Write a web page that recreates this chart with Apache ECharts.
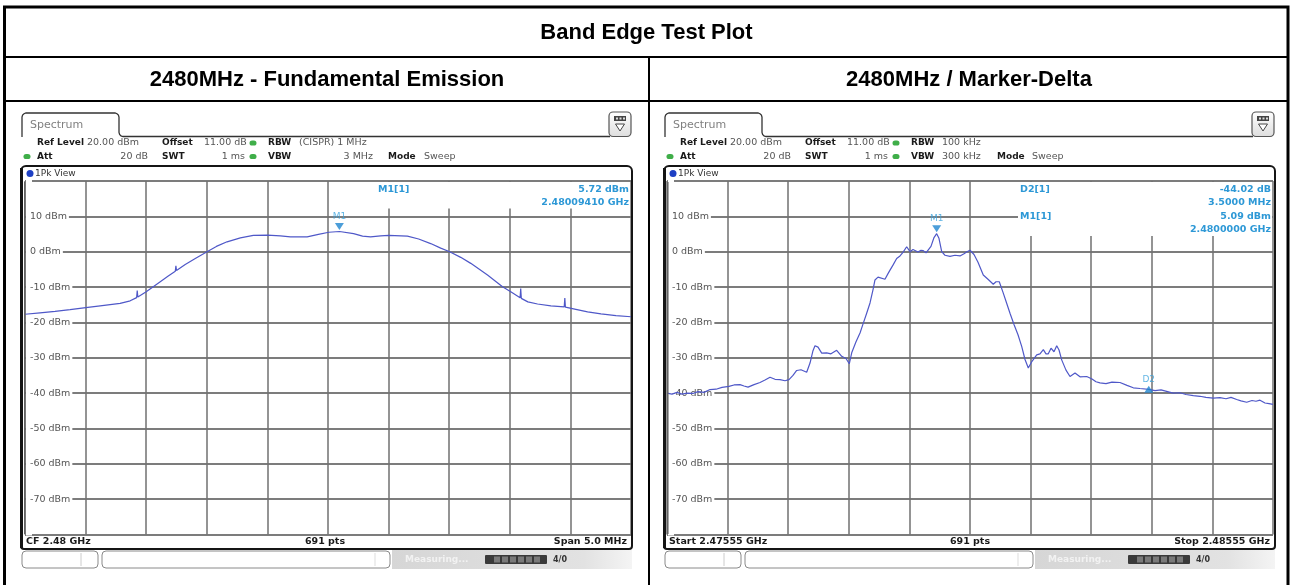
<!DOCTYPE html>
<html><head><meta charset="utf-8">
<script src="https://cdn.jsdelivr.net/npm/echarts@6/dist/echarts.min.js"></script>
<style>html,body{margin:0;padding:0;background:#fff}#c{width:1292px;height:585px}</style>
</head><body><div id="c"></div>
<script>
// ---------- DATA ----------
const mainTitle = 'Band Edge Test Plot';
const panelTitles = ['2480MHz - Fundamental Emission', '2480MHz / Marker-Delta'];

// y axis (dBm) ticks
const yMin = -80, yMax = 20, yStep = 10;
const yUnit = ' dBm';

// Left trace: frequency offset from 2.4775 GHz (MHz), level (dBm)
const fundFreq = [0.000,0.124,0.248,0.372,0.502,0.620,0.785,0.868,0.921,0.926,0.931,1.000,1.058,1.116,1.182,1.240,1.245,1.250,1.322,1.405,1.502,1.579,1.667,1.777,1.884,2.000,2.107,2.190,2.328,2.421,2.507,2.595,2.711,2.785,2.851,2.934,3.000,3.155,3.248,3.347,3.430,3.504,3.595,3.678,3.816,3.940,4.008,4.085,4.090,4.095,4.149,4.229,4.339,4.449,4.454,4.459,4.545,4.642,4.752,4.876,5.000];
const fundLevel = [-17.7,-17.3,-16.9,-16.4,-15.8,-15.3,-14.6,-13.9,-13.0,-11.0,-12.8,-11.3,-9.9,-8.5,-6.9,-5.5,-4.0,-5.3,-3.6,-1.9,0.0,1.5,2.8,3.9,4.6,4.7,4.5,4.2,4.2,4.9,5.5,5.72,5.1,4.4,4.2,4.5,4.6,4.4,3.6,2.3,1.0,0.0,-1.6,-3.3,-6.6,-9.9,-11.3,-13.0,-10.4,-13.2,-14.2,-14.8,-15.3,-15.6,-13.1,-15.7,-16.3,-17.0,-17.6,-18.1,-18.4];
const fundSpanMHz = 5, fundStepMHz = 0.5;

// Right trace: frequency offset from 2.47555 GHz (MHz), level (dBm)
const deltaFreq = [0.000,0.083,0.165,0.248,0.330,0.429,0.512,0.611,0.710,0.809,0.908,1.023,1.106,1.205,1.271,1.337,1.436,1.535,1.617,1.700,1.782,1.865,1.947,2.013,2.079,2.140,2.211,2.305,2.360,2.409,2.442,2.492,2.553,2.635,2.706,2.800,2.883,2.954,3.008,3.048,3.119,3.185,3.234,3.295,3.350,3.399,3.432,3.482,3.515,3.597,3.647,3.680,3.729,3.790,3.845,3.894,3.955,4.010,4.059,4.092,4.142,4.191,4.229,4.274,4.306,4.356,4.406,4.450,4.488,4.533,4.587,4.670,4.752,4.835,4.901,4.950,5.000,5.066,5.132,5.219,5.297,5.384,5.429,5.483,5.545,5.594,5.660,5.726,5.792,5.853,5.908,5.962,6.023,6.101,6.155,6.210,6.254,6.292,6.337,6.386,6.431,6.469,6.513,6.584,6.650,6.733,6.815,6.926,7.013,7.079,7.145,7.244,7.343,7.475,7.591,7.695,7.805,7.950,8.053,8.152,8.245,8.350,8.465,8.564,8.685,8.795,8.894,9.015,9.125,9.224,9.307,9.401,9.472,9.566,9.653,9.719,9.785,9.868,9.934,10.000];
const deltaLevel = [-40.0,-40.3,-39.8,-40.3,-40.0,-40.1,-39.6,-39.8,-39.0,-38.9,-38.4,-38.1,-37.7,-37.6,-38.0,-38.3,-37.6,-37.0,-36.3,-35.5,-36.1,-36.2,-36.5,-36.2,-35.0,-33.6,-33.4,-34.1,-31.5,-28.0,-26.6,-27.0,-28.7,-28.6,-28.9,-27.9,-29.6,-30.2,-31.7,-28.6,-25.5,-23.0,-20.5,-17.4,-14.5,-10.8,-8.0,-7.2,-7.1,-7.8,-6.2,-5.2,-3.8,-1.9,-1.2,-0.2,1.4,0.0,0.6,0.4,-0.1,0.4,0.3,-0.3,-0.3,1.5,4.0,5.09,3.8,0.0,-1.0,-1.3,-1.0,-1.2,-0.6,0.0,0.4,-0.8,-3.0,-6.6,-7.8,-9.2,-8.5,-8.5,-11.5,-14.0,-17.4,-20.6,-23.5,-26.8,-30.5,-32.9,-31.0,-29.2,-28.9,-27.7,-28.9,-28.9,-27.3,-28.3,-26.6,-27.8,-30.6,-33.5,-35.3,-34.3,-35.4,-35.3,-36.0,-36.8,-37.1,-37.3,-36.9,-37.0,-37.8,-38.5,-38.7,-38.93,-39.3,-39.1,-39.5,-40.0,-39.9,-40.4,-40.7,-40.9,-41.2,-41.4,-41.3,-41.6,-41.2,-41.8,-42.2,-42.6,-42.1,-42.3,-42.0,-42.8,-43.0,-43.2];
const deltaSpanMHz = 10, deltaStepMHz = 1;

// Markers
const fundM1 = [2.594, 5.72];
const deltaM1 = [4.45, 5.09];
const deltaD2 = [7.95, -38.93];

// Texts
const fundMarkerTexts = ['M1[1]', '5.72 dBm', '2.48009410 GHz'];
const deltaMarkerTexts = ['D2[1]', '-44.02 dB', '3.5000 MHz', 'M1[1]', '5.09 dBm', '2.4800000 GHz'];
const fundFooter = ['CF 2.48 GHz', '691 pts', 'Span 5.0 MHz'];
const deltaFooter = ['Start 2.47555 GHz', '691 pts', 'Stop 2.48555 GHz'];
const fundRBW = '(CISPR) 1 MHz', fundVBW = '3 MHz';
const deltaRBW = '100 kHz', deltaVBW = '300 kHz';

// ---------- RENDER ----------
const FONT = '"DejaVu Sans", Verdana, sans-serif';
const HFONT = '"Liberation Sans", Arial, sans-serif';
const TRACE = '#4f58c8';
const MK = '#2d98d6';

function pairs(xs, ys){ return xs.map((x,i)=>[x, ys[i]]); }

function T(x, y, s, o){
  o = o || {};
  const align = o.align || 'left', va = o.va || 'middle';
  return {type:'text', z: o.z || 20, silent:true,
    style:{text:s, x:x, y:y, fill:o.color||'#333',
      font:(o.bold?'bold ':'') + (o.size||9.5) + 'px ' + (o.font||FONT),
      align:align, verticalAlign:va, textAlign:align, textVerticalAlign:va}};
}
function L(x1,y1,x2,y2,c,w,z){ return {type:'line', z:z||20, silent:true, shape:{x1,y1,x2,y2}, style:{stroke:c, lineWidth:w}}; }
function R(x,y,w,h,o){ return {type:'rect', z:o.z||20, silent:true, shape:{x,y,width:w,height:h,r:o.r||0}, style:{fill:o.fill||'none', stroke:o.stroke||'none', lineWidth:o.lw||1}}; }
function dot(cx,cy,c){ return {type:'rect', z:20, silent:true, shape:{x:cx-3.5,y:cy-2.6,width:7,height:5.2,r:2.6}, style:{fill:c}}; }

function chrome(ox, isLeft){
  const e = [];
  const boldC = '#1a1a1a', regC = '#555';
  const HB = {bold:true, color:boldC, size:9};
  const HR = {color:regC, size:9.5};
  // tab + baseline
  const tab = [[22,137],[22,117],[22.6,115],[24,113.7],[26,113],[115,113],[117,113.7],[118.4,115],[119,117],[119,132.5],[119.6,134.5],[121,135.9],[123,136.5],[610,136.5]]
    .map(p=>[p[0]+ox, p[1]]);
  e.push({type:'polyline', z:20, silent:true, shape:{points:tab}, style:{stroke:'#333', lineWidth:1.3, fill:'none'}});
  e.push(T(ox+30, 125, 'Spectrum', {size:11, color:'#808080'}));
  // icon
  e.push({type:'rect', z:20, silent:true, shape:{x:ox+609,y:112,width:22,height:24.5,r:4},
    style:{fill:new echarts.graphic.LinearGradient(0,0,0,1,[{offset:0,color:'#fff'},{offset:1,color:'#ddd'}]), stroke:'#555', lineWidth:1.2}});
  e.push(R(ox+614,116,12,5,{fill:'#444'}));
  e.push(R(ox+616,117.5,2,2,{fill:'#ddd'}));
  e.push(R(ox+619.5,117.5,2,2,{fill:'#ddd'}));
  e.push(R(ox+623,117.5,2,2,{fill:'#ddd'}));
  e.push({type:'polygon', z:20, silent:true, shape:{points:[[ox+615.5,124],[ox+624.5,124],[ox+620,131]]}, style:{fill:'#fff', stroke:'#444', lineWidth:1}});
  // header line 1
  const y1 = 143, y2 = 156.5;
  e.push(T(ox+37, y1, 'Ref Level', HB));
  e.push(T(ox+87, y1, '20.00 dBm', HR));
  e.push(T(ox+162, y1, 'Offset', HB));
  e.push(T(ox+204, y1, '11.00 dB', HR));
  e.push(dot(ox+253, y1, '#3fae49'));
  e.push(T(ox+268, y1, 'RBW', HB));
  e.push(T(ox+299, y1, isLeft?fundRBW:deltaRBW, HR));
  // header line 2
  e.push(dot(ox+27, y2, '#3fae49'));
  e.push(T(ox+37, y2, 'Att', HB));
  e.push(T(ox+148, y2, '20 dB', Object.assign({align:'right'}, HR)));
  e.push(T(ox+162, y2, 'SWT', HB));
  e.push(T(ox+245, y2, '1 ms', Object.assign({align:'right'}, HR)));
  e.push(dot(ox+253, y2, '#3fae49'));
  e.push(T(ox+268, y2, 'VBW', HB));
  if (isLeft){
    e.push(T(ox+373, y2, fundVBW, Object.assign({align:'right'}, HR)));
    e.push(T(ox+388, y2, 'Mode', HB));
    e.push(T(ox+424, y2, 'Sweep', HR));
  } else {
    e.push(T(ox+299, y2, deltaVBW, HR));
    e.push(T(ox+354, y2, 'Mode', HB));
    e.push(T(ox+389, y2, 'Sweep', HR));
  }
  // frame
  e.push(R(ox+21, 166, 611, 383, {stroke:'#151515', lw:2, r:[5,5,3,3], z:21}));
  e.push(L(ox+21.5, 168, ox+21.5, 548, '#151515', 3, 21));
  e.push(L(ox+24.8, 182, ox+24.8, 534, '#606060', 1.5, 21));
  e.push({type:'circle', z:20, silent:true, shape:{cx:ox+30, cy:173.5, r:3.5}, style:{fill:'#1d3fc4'}});
  e.push(T(ox+35, 173.5, '1Pk View', {size:9, color:'#333'}));
  // footer
  const ft = isLeft?fundFooter:deltaFooter;
  e.push(T(ox+26, 541.5, ft[0], {bold:true, color:boldC}));
  e.push(T(ox+ (isLeft?325:327), 541.5, ft[1], {bold:true, color:boldC, align:'center'}));
  e.push(T(ox+627, 541.5, ft[2], {bold:true, color:boldC, align:'right'}));
  // bottom status boxes
  e.push(R(ox+22, 551, 76, 17, {stroke:'#8a8a8a', fill:'#fff', r:4}));
  e.push(L(ox+81, 553, ox+81, 566, '#ccc', 1));
  e.push(R(ox+102, 551, 288, 17, {stroke:'#8a8a8a', fill:'#fff', r:4}));
  e.push(L(ox+375, 553, ox+375, 566, '#ddd', 1));
  e.push({type:'rect', z:19, silent:true, shape:{x:ox+392,y:550,width:240,height:19},
    style:{fill:new echarts.graphic.LinearGradient(0,0,1,0,[{offset:0,color:'#d6d6d6'},{offset:0.8,color:'#e2e2e2'},{offset:1,color:'#f4f4f4'}])}});
  e.push(T(ox+405, 559.5, 'Measuring...', {size:9, color:'#f2f2f2', bold:true}));
  e.push(R(ox+485, 555, 62, 9, {fill:'#3a3a3a', r:1}));
  for (let k=0;k<6;k++) e.push(R(ox+494+k*8, 556.5, 6, 6, {fill:'#7a7a7a'}));
  e.push(T(ox+553, 559.5, '4/0', {size:8, color:'#333', bold:true}));
  return e;
}

const graphics = [];
// table lines
graphics.push(R(4.5, 7, 1283.5, 600, {stroke:'#000', lw:3, z:30}));
graphics.push(L(4, 57, 1289, 57, '#000', 2, 30));
graphics.push(L(4, 101, 1289, 101, '#000', 2, 30));
graphics.push(L(649, 57, 649, 590, '#000', 2, 30));
graphics.push(T(646.5, 33, mainTitle, {bold:true, size:22, font:HFONT, color:'#000', align:'center'}));
graphics.push(T(327, 79.5, panelTitles[0], {bold:true, size:22, font:HFONT, color:'#000', align:'center'}));
graphics.push(T(969, 79.5, panelTitles[1], {bold:true, size:22, font:HFONT, color:'#000', align:'center'}));

graphics.push(...chrome(0, true));
graphics.push(...chrome(643, false));

// marker info boxes (hide grid)
graphics.push(R(366, 182, 264, 26.5, {fill:'#fff', z:1}));
graphics.push(R(1018, 182, 254, 54, {fill:'#fff', z:1}));
graphics.push(T(378, 189.5, fundMarkerTexts[0], {bold:true, color:MK}));
graphics.push(T(629, 189.5, fundMarkerTexts[1], {bold:true, color:MK, align:'right'}));
graphics.push(T(629, 203, fundMarkerTexts[2], {bold:true, color:MK, align:'right'}));
graphics.push(T(1020, 189.5, deltaMarkerTexts[0], {bold:true, color:MK}));
graphics.push(T(1271, 189.5, deltaMarkerTexts[1], {bold:true, color:MK, align:'right'}));
graphics.push(T(1271, 203, deltaMarkerTexts[2], {bold:true, color:MK, align:'right'}));
graphics.push(T(1020, 216.5, deltaMarkerTexts[3], {bold:true, color:MK}));
graphics.push(T(1271, 216.5, deltaMarkerTexts[4], {bold:true, color:MK, align:'right'}));
graphics.push(T(1271, 230, deltaMarkerTexts[5], {bold:true, color:MK, align:'right'}));

function xAx(idx, span, step){
  return {type:'value', gridIndex:idx, min:0, max:span, interval:step,
    axisLine:{show:false}, axisTick:{show:false}, axisLabel:{show:false},
    splitLine:{show:true, lineStyle:{color:'#707070', width:1.5}}};
}
function yAx(idx){
  return {type:'value', gridIndex:idx, min:yMin, max:yMax, interval:yStep,
    axisLine:{show:false}, axisTick:{show:false},
    axisLabel:{inside:true, margin:1, color:'#555', fontFamily:FONT, fontSize:9.5,
      backgroundColor:'#fff', padding:[1,2,1,4],
      formatter:v => (v===yMin||v===yMax)?'':(v+yUnit)},
    splitLine:{show:true, lineStyle:{color:'#505050', width:1.5}}};
}
function marker(xi, pt, name, down){
  return {type:'scatter', xAxisIndex:xi, yAxisIndex:xi, z:5, silent:true,
    data:[pt], symbol:'triangle', symbolRotate: down?180:0, symbolSize:[9,7],
    symbolOffset: down?[0,-5]:[0,0],
    itemStyle:{color:'#1f86cf'},
    label:{show:true, position:'top', distance:2, formatter:name, color:'#3aa2dd', fontFamily:FONT, fontSize:9}};
}

const option = {
  animation:false,
  backgroundColor:'#fff',
  grid:[
    {left:25, top:181, width:606, height:353.5},
    {left:667, top:181, width:606, height:353.5}
  ],
  xAxis:[xAx(0, fundSpanMHz, fundStepMHz), xAx(1, deltaSpanMHz, deltaStepMHz)],
  yAxis:[yAx(0), yAx(1)],
  series:[
    {type:'line', xAxisIndex:0, yAxisIndex:0, data:pairs(fundFreq, fundLevel), showSymbol:false, z:3,
      lineStyle:{color:TRACE, width:1.2}, silent:true},
    {type:'line', xAxisIndex:1, yAxisIndex:1, data:pairs(deltaFreq, deltaLevel), showSymbol:false, z:3,
      lineStyle:{color:TRACE, width:1.2}, silent:true},
    marker(0, fundM1, 'M1', true),
    marker(1, deltaM1, 'M1', true),
    marker(1, deltaD2, 'D2', false)
  ],
  graphic:{elements:graphics}
};
const chart = echarts.init(document.getElementById('c'));
chart.setOption(option);
</script>
</body></html>
